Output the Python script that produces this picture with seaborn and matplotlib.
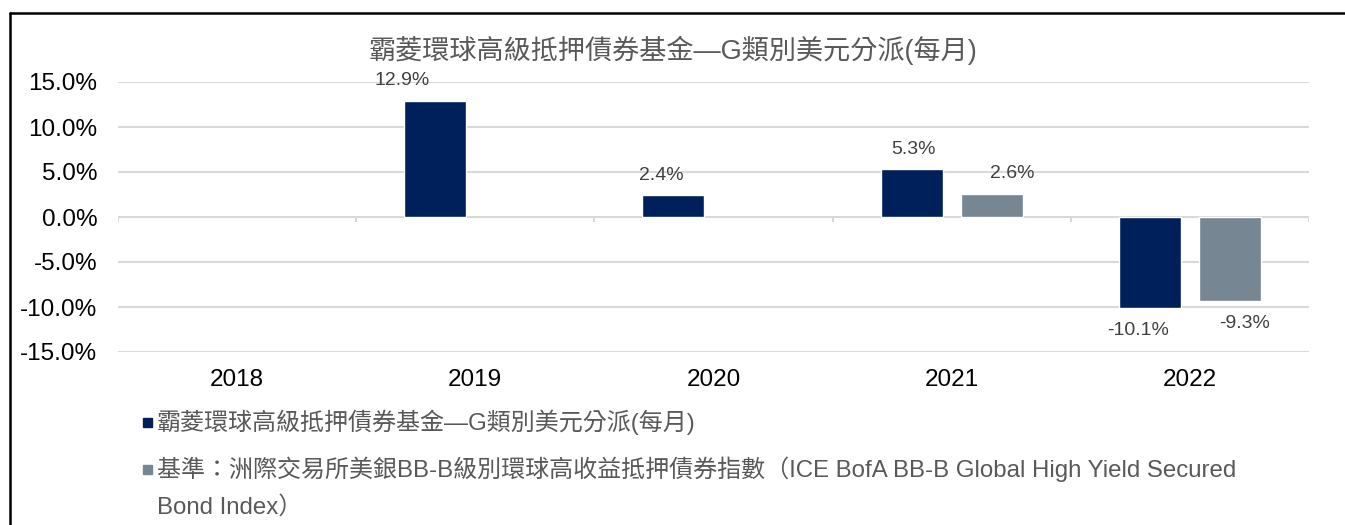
import numpy as np
import pandas as pd
import seaborn as sns
import matplotlib.pyplot as plt
from matplotlib.patches import Rectangle
from matplotlib.lines import Line2D

# Data
years = ['2018', '2019', '2020', '2021', '2022']
fund_name = '霸菱環球高級抵押債券基金—G類別美元分派(每月)'
bench_name = '基準：洲際交易所美銀BB-B級別環球高收益抵押債券指數（ICE BofA BB-B Global High Yield Secured'
bench_name_2 = 'Bond Index）'
fund_values = [np.nan, 12.9, 2.4, 5.3, -10.1]
bench_values = [np.nan, np.nan, np.nan, 2.6, -9.3]
y_ticks = [-15, -10, -5, 0, 5, 10, 15]

# horizontal nudges (px) for the value labels, like the original layout
label_dx = {12.9: -33, 2.4: -12, 5.3: 2, 2.6: 21, -10.1: -12, -9.3: 15}

fund_color = '#00205b'
bench_color = '#768692'
text_gray = '#595959'
grid_color = '#d9d9d9'

df = pd.DataFrame({
    'Year': years * 2,
    'Series': [fund_name] * len(years) + ['bench'] * len(years),
    'Value': fund_values + bench_values,
})

sns.set_style("white")
plt.rcParams['font.family'] = ['Liberation Sans', 'Noto Sans CJK TC', 'DejaVu Sans']

fig = plt.figure(figsize=(13.45, 5.25), dpi=100)
ax = fig.add_axes([118 / 1345, 1 - 352 / 525, (1309 - 118) / 1345, 270 / 525])

sns.barplot(data=df, x='Year', y='Value', hue='Series', order=years,
            hue_order=[fund_name, 'bench'], palette=[fund_color, bench_color],
            width=0.672, gap=0.225, ax=ax, legend=False, errorbar=None,
            saturation=1, zorder=3)

ax.set_xlim(-0.5, 4.5)
ax.set_ylim(-15, 15)
ax.set_yticks(y_ticks)
ax.set_yticklabels(['%.1f%%' % v for v in y_ticks], fontsize=17.5, color='black')
ax.tick_params(axis='x', labelsize=17.5, colors='black', length=0, pad=12)
ax.tick_params(axis='y', length=0, pad=15)
ax.set_xlabel('')
ax.set_ylabel('')
for sp in ax.spines.values():
    sp.set_visible(False)
for v in y_ticks:
    ax.axhline(v, color=grid_color, lw=1.5, zorder=1)
# category separators on the zero line
ax.vlines(np.arange(-0.5, 5, 1), -0.6, 0, color=grid_color, lw=1.5, zorder=1)

# value labels
for p in ax.patches:
    h = p.get_height()
    if p.get_width() == 0 or np.isnan(h) or h == 0:
        continue
    xc = p.get_x() + p.get_width() / 2
    dx = label_dx.get(round(h, 1), 0) * 0.72
    dy = 14.4 if h > 0 else -16.5
    ax.annotate('%.1f%%' % h, (xc, h), xytext=(dx, dy), textcoords='offset points',
                ha='center', va='center', fontsize=14, color='#404040')

fig.text(0.5, 1 - 50 / 525, fund_name, ha='center', va='center',
         fontsize=19.5, color=text_gray)

# legend drawn manually below the plot
sq = 9 / 1345
for yc, col, txt in [(422, fund_color, fund_name), (469, bench_color, bench_name)]:
    fig.add_artist(Rectangle((143 / 1345, 1 - (yc + 4.5) / 525), sq, 9 / 525,
                             transform=fig.transFigure, color=col))
    fig.text(157 / 1345, 1 - yc / 525, txt, ha='left', va='center',
             fontsize=17.3, color=text_gray)
fig.text(157 / 1345, 1 - 507 / 525, bench_name_2, ha='left', va='center',
         fontsize=17.3, color=text_gray)

# frame lines at top and left
fig.add_artist(Line2D([10 / 1345, 10 / 1345], [0, 1 - 13 / 525], color='black', lw=1.8,
                      transform=fig.transFigure))
fig.add_artist(Line2D([10 / 1345, 1], [1 - 13 / 525, 1 - 13 / 525], color='black', lw=1.8,
                      transform=fig.transFigure))

fig.savefig('out.png', dpi=100)
